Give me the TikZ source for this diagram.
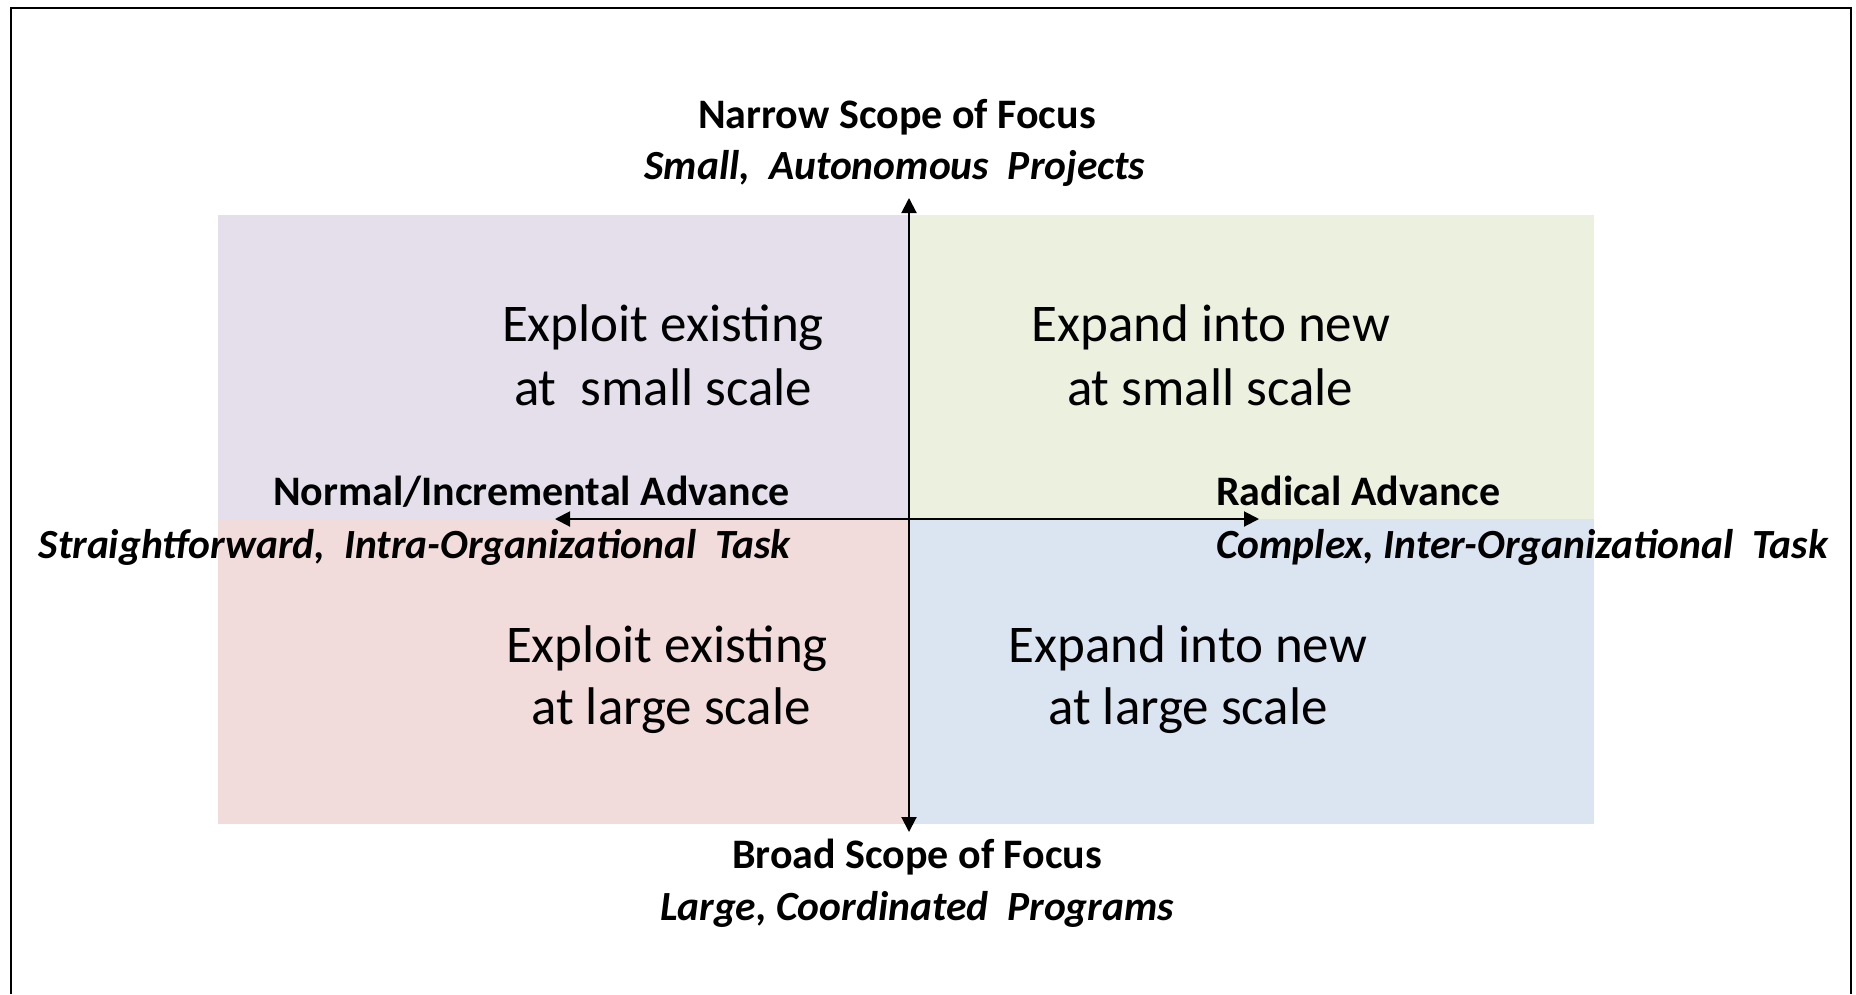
\documentclass[tikz,border=0pt]{standalone}
\usepackage{fontspec}
\setmainfont{Carlito}
\usetikzlibrary{arrows.meta}

\definecolor{qpurple}{HTML}{E5DFEC}
\definecolor{qgreen}{HTML}{EBF1DE}
\definecolor{qpink}{HTML}{F2DCDB}
\definecolor{qblue}{HTML}{DBE5F1}

\tikzset{
  axis/.style={line width=2pt, -{Triangle[width=15pt,length=15pt]}},
  quadtext/.style={font=\fontsize{53}{64}\selectfont, align=center, inner sep=0pt},
  headlabel/.style={font=\fontsize{42}{50}\selectfont\bfseries, inner sep=0pt, anchor=base},
  sublabel/.style={font=\fontsize{41.5}{50}\selectfont\bfseries\itshape, inner sep=0pt, anchor=base},
}

\begin{document}
\begin{tikzpicture}[x=1pt, y=-1pt]
\useasboundingbox (0,0) rectangle (1856,994);
\fill[white] (0,0) rectangle (1856,994);

% quadrant backgrounds
\fill[qpurple] (218,215) rectangle (909,519);
\fill[qgreen]  (909,215) rectangle (1594,519);
\fill[qpink]   (218,519) rectangle (909,824);
\fill[qblue]   (909,519) rectangle (1594,824);

% outer frame (open at the bottom)
\draw[line width=2.5pt] (11,994) -- (11,8) -- (1851,8) -- (1851,994);

% axes
\coordinate (c) at (909,519);
\coordinate (up) at (909,198);
\coordinate (down) at (909,832);
\coordinate (left) at (555,519);
\coordinate (right) at (1259,519);
\draw[axis] (c) -- (up);
\draw[axis] (c) -- (down);
\draw[axis] (c) -- (left);
\draw[axis] (c) -- (right);

% quadrant texts
\node[quadtext, anchor=base] (q1a) at (663,341) {Exploit existing};
\node[quadtext, anchor=base] (q1b) at (663,405) {at\ \ small scale};
\node[quadtext, anchor=base] (q2a) at (1211,341) {Expand into new};
\node[quadtext, anchor=base] (q2b) at (1210,405) {at small scale};
\node[quadtext, anchor=base] (q3a) at (667,662) {Exploit existing};
\node[quadtext, anchor=base] (q3b) at (671,724) {at large scale};
\node[quadtext, anchor=base] (q4a) at (1188,662) {Expand into new};
\node[quadtext, anchor=base] (q4b) at (1188,724) {at large scale};

% axis labels
\node[headlabel] (topa) at (897,128) {Narrow Scope of Focus};
\node[sublabel]  (topb) at (895,179) {Small,\ \ Autonomous\ \ Projects};
\node[headlabel, anchor=base east] (lefta) at (790,505) {Normal/Incremental Advance};
\node[sublabel, anchor=base east]  (leftb) at (791,558) {Straightforward,\ \ Intra-Organizational\ \ Task};
\node[headlabel, anchor=base west] (righta) at (1216,505) {Radical Advance};
\node[sublabel, anchor=base west]  (rightb) at (1216,558) {Complex, Inter-Organizational\ \ Task};
\node[headlabel] (bota) at (917,868) {Broad Scope of Focus};
\node[sublabel]  (botb) at (917,920) {Large, Coordinated\ \ Programs};
\end{tikzpicture}
\end{document}
